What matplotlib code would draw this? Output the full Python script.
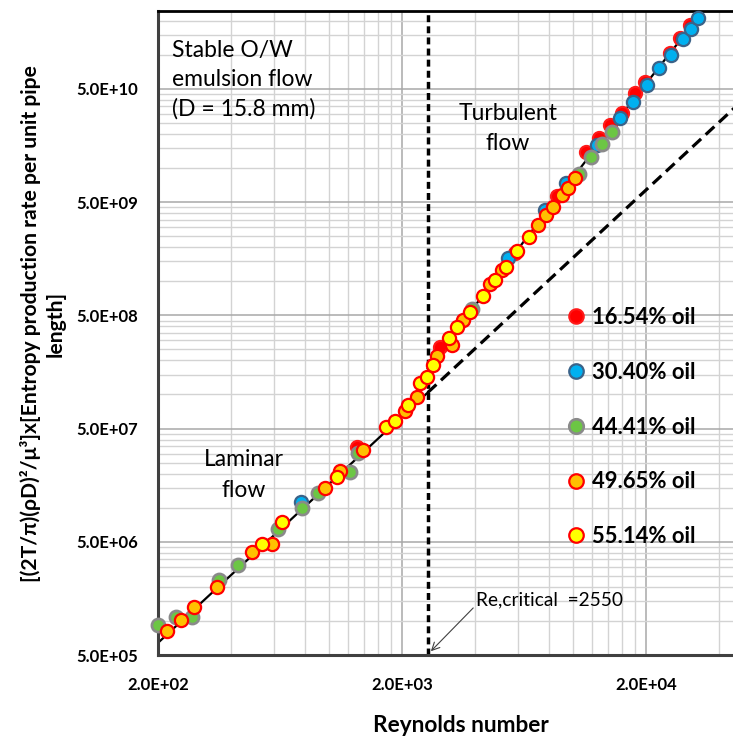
import numpy as np
import matplotlib
matplotlib.use('Agg')
import matplotlib.pyplot as plt
from matplotlib.ticker import FixedLocator, FixedFormatter, NullFormatter

plt.rcParams['font.family'] = ['Lato', 'DejaVu Sans']
plt.rcParams['lines.scale_dashes'] = False

# ---------------- data ----------------
series_labels = ['16.54% oil', '30.40% oil', '44.41% oil', '49.65% oil', '55.14% oil']

re_1654 = [1308, 2864, 5808, 8630, 11350, 12830, 14230, 15940, 18030, 19820, 25080, 27560, 30280]
s_1654 = [3.44e7, 2.63e8, 1.78e9, 5.67e9, 1.39e10, 1.85e10, 2.40e10, 3.07e10, 4.61e10, 5.77e10,
          1.04e11, 1.41e11, 1.84e11]

re_3040 = [771, 5436, 7710, 9400, 12590, 15640, 17700, 20190, 22610, 25310, 28350, 30580, 32680]
s_3040 = [1.12e7, 1.61e9, 4.27e9, 7.39e9, 1.60e10, 2.77e10, 3.84e10, 5.42e10, 7.67e10, 9.98e10,
          1.38e11, 1.69e11, 2.12e11]

re_4441 = [200, 237, 276, 356, 426, 620, 778, 906, 1224, 1320, 3872, 10620, 11900, 13200, 14520]
s_4441 = [9.2e5, 1.08e6, 1.08e6, 2.3e6, 3.12e6, 6.5e6, 9.95e6, 1.35e7, 2.07e7, 3.04e7, 5.7e8,
          8.87e9, 1.25e10, 1.63e10, 2.08e10]

re_4965 = [218, 248, 281, 349, 486, 586, 966, 1114, 1384, 2058, 2304, 2782, 3206, 3556, 4588, 5140,
           7220, 7780, 8320, 9060, 9580, 10240]
s_4965 = [8.15e5, 1.02e6, 1.33e6, 2.0e6, 4.06e6, 4.78e6, 1.49e7, 2.11e7, 3.24e7, 7.15e7, 9.5e7,
          2.19e8, 2.74e8, 4.55e8, 9.46e8, 1.26e9, 3.15e9, 3.85e9, 4.54e9, 5.79e9, 6.67e9, 8.18e9]

re_5514 = [534, 644, 1084, 1720, 1872, 2116, 2370, 2532, 2680, 3116, 3360, 3800, 4296, 4810, 5340,
           5916, 6624]
s_5514 = [4.78e6, 7.48e6, 1.87e7, 5.16e7, 5.83e7, 8.08e7, 1.26e8, 1.43e8, 1.82e8, 3.16e8, 3.95e8,
          5.36e8, 7.42e8, 1.03e9, 1.34e9, 1.85e9, 2.47e9]

re_critical = 2550
laminar_coef = 16.0
laminar_exp = 2.0

x_ticks = [2e2, 2e3, 2e4]
x_ticklabels = ['2.0E+02', '2.0E+03', '2.0E+04']
y_ticks = [5e5, 5e6, 5e7, 5e8, 5e9, 5e10]
y_ticklabels = ['5.0E+05', '5.0E+06', '5.0E+07', '5.0E+08', '5.0E+09', '5.0E+10']

# ---------------- styles ----------------
fills = ['#FF0000', '#00B0F0', '#6CC644', '#FFC000', '#FFFF00']
edges = ['#FF1A1A', '#3B6389', '#8A8A8A', '#FF0000', '#FF0000']
ews = [1.5, 1.6, 1.9, 1.6, 1.6]

W, H = 733, 747
fig = plt.figure(figsize=(W / 100, H / 100), dpi=100)


def fx(p):
    return p / W


def fy(p):
    return 1 - p / H


ax = fig.add_axes([fx(158), fy(655), fx(733) - fx(158), fy(11) - fy(655)])
ax.set_xscale('log')
ax.set_yscale('log')
ax.set_xlim(200, 45460)
ax.set_ylim(5e5, 2.44e11)

ax.xaxis.set_major_locator(FixedLocator(x_ticks))
ax.xaxis.set_major_formatter(FixedFormatter(x_ticklabels))
ax.yaxis.set_major_locator(FixedLocator(y_ticks))
ax.yaxis.set_major_formatter(FixedFormatter(y_ticklabels))
ax.xaxis.set_minor_locator(FixedLocator([b * k for b in x_ticks for k in range(2, 10)]))
ax.yaxis.set_minor_locator(FixedLocator([b * k for b in y_ticks for k in range(2, 10)]))
ax.xaxis.set_minor_formatter(NullFormatter())
ax.yaxis.set_minor_formatter(NullFormatter())
ax.tick_params(which='both', length=0)
ax.tick_params(axis='x', pad=15.5, labelsize=12)
ax.tick_params(axis='y', pad=14, labelsize=12)
for lab in ax.get_xticklabels() + ax.get_yticklabels():
    lab.set_fontweight('bold')

ax.grid(which='major', color='#A8A8A8', lw=1.1, zorder=0)
ax.grid(which='minor', color='#D3D3D3', lw=1.0, zorder=0)
ax.set_axisbelow(True)

for side in ['left', 'bottom']:
    ax.spines[side].set_color('#404040')
    ax.spines[side].set_linewidth(2.2)
ax.spines['top'].set_color('black')
ax.spines['top'].set_linewidth(2.0)
ax.spines['right'].set_visible(False)

# laminar line, its dashed extension, critical line
re_lam = np.geomspace(200, re_critical, 60)
ax.plot(re_lam, laminar_coef * re_lam ** laminar_exp, color='black', lw=1.6, zorder=2)
re_ext = np.geomspace(re_critical, 47000, 60)
ax.plot(re_ext, laminar_coef * re_ext ** laminar_exp, color='black', lw=2.3,
        ls=(0, (8.5, 4.5)), zorder=2)
ax.axvline(re_critical, color='black', lw=2.5, ls=(0, (5, 3)), zorder=2)

# turbulent trend through data
all_re = np.array(re_1654 + re_3040 + re_4441 + re_4965 + re_5514, dtype=float)
all_s = np.array(s_1654 + s_3040 + s_4441 + s_4965 + s_5514, dtype=float)
mask = all_re >= re_critical
coef = np.polyfit(np.log10(all_re[mask]), np.log10(all_s[mask]), 2)
re_t = np.geomspace(re_critical, 40000, 80)
ax.plot(re_t, 10 ** np.polyval(coef, np.log10(re_t)), color='black', lw=1.6, zorder=2)

series = [(re_1654, s_1654), (re_3040, s_3040), (re_4441, s_4441), (re_4965, s_4965), (re_5514, s_5514)]
handles = []
for i, (xs, ys) in enumerate(series):
    h, = ax.plot(xs, ys, ls='none', marker='o', ms=9.5, mfc=fills[i], mec=edges[i], mew=ews[i],
                 zorder=3 + i, clip_on=False, label=series_labels[i])
    handles.append(h)

leg = fig.legend(handles=handles, loc='upper left', bbox_to_anchor=(fx(568), fy(307)),
                 frameon=False, fontsize=15.8, handlelength=0.72, handletextpad=0.38,
                 labelspacing=1.54, borderpad=0, borderaxespad=0, markerscale=1.1)
for t in leg.get_texts():
    t.set_fontweight('bold')

# annotations
ann_fs = 16.5
fig.text(fx(172), fy(50), 'Stable O/W', fontsize=ann_fs, ha='left', va='center')
fig.text(fx(172), fy(80), 'emulsion flow', fontsize=ann_fs, ha='left', va='center')
fig.text(fx(172), fy(109), '(D = 15.8 mm)', fontsize=ann_fs, ha='left', va='center')
fig.text(fx(508), fy(113), 'Turbulent', fontsize=ann_fs, ha='center', va='center')
fig.text(fx(508), fy(144), 'flow', fontsize=ann_fs, ha='center', va='center')
fig.text(fx(244), fy(460), 'Laminar', fontsize=ann_fs, ha='center', va='center')
fig.text(fx(244), fy(490), 'flow', fontsize=ann_fs, ha='center', va='center')

ax.annotate('Re,critical  =2550', xy=(re_critical * 1.03, 5.4e5), xycoords='data',
            xytext=(fx(476), fy(600)), textcoords='figure fraction', fontsize=13.8,
            ha='left', va='center',
            arrowprops=dict(arrowstyle='->', color='#404040', lw=0.8,
                            shrinkA=0, shrinkB=0, relpos=(0, 0.2)))

# axis titles
fig.text(fx(461), fy(725), 'Reynolds number', fontsize=16.3, fontweight='bold', ha='center', va='center')
fig.text(fx(31), fy(324), '[(2T/\u03c0)(\u03c1D)\u00b2/\u03bc\u00b3]x[Entropy production rate per unit pipe',
         fontsize=15.2, fontweight='bold', rotation=90, ha='center', va='center')
fig.text(fx(56), fy(324), 'length]', fontsize=15.2, fontweight='bold', rotation=90,
         ha='center', va='center')

fig.savefig('out.png', dpi=100)
